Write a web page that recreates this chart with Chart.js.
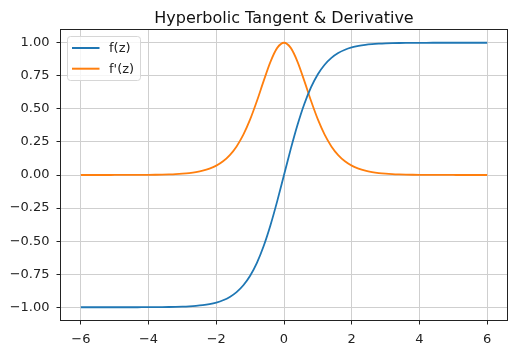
<!DOCTYPE html>
<html>
<head>
<meta charset="utf-8">
<script src="https://cdn.jsdelivr.net/npm/chart.js@4.4.1/dist/chart.umd.min.js"></script>
<style>
html,body{margin:0;padding:0;background:#fff;}
#wrap{width:515px;height:352px;}
</style>
</head>
<body>
<div id="wrap"><canvas id="c" width="515" height="352"></canvas></div>
<script>
const chartTitle = "Hyperbolic Tangent & Derivative";
const seriesLabels = ["f(z)", "f'(z)"];
const zValues = [-6.0,-5.8,-5.6,-5.4,-5.2,-5.0,-4.8,-4.6,-4.4,-4.2,-4.0,-3.8,-3.6,-3.4,-3.2,-3.0,-2.8,-2.6,-2.4,-2.2,-2.0,-1.8,-1.6,-1.4,-1.2,-1.0,-0.8,-0.6,-0.4,-0.2,
  0.0,0.2,0.4,0.6,0.8,1.0,1.2,1.4,1.6,1.8,2.0,2.2,2.4,2.6,2.8,3.0,3.2,3.4,3.6,3.8,4.0,4.2,4.4,4.6,4.8,5.0,5.2,5.4,5.6,5.8,6.0];
const fValues = [-1.0000,-1.0000,-1.0000,-1.0000,-1.0000,-0.9999,-0.9999,-0.9998,-0.9997,-0.9996,-0.9993,-0.9990,-0.9985,-0.9978,-0.9967,-0.9951,-0.9926,-0.9890,-0.9837,-0.9757,-0.9640,-0.9468,-0.9217,-0.8854,-0.8337,-0.7616,-0.6640,-0.5370,-0.3799,-0.1974,
  0.0000,0.1974,0.3799,0.5370,0.6640,0.7616,0.8337,0.8854,0.9217,0.9468,0.9640,0.9757,0.9837,0.9890,0.9926,0.9951,0.9967,0.9978,0.9985,0.9990,0.9993,0.9996,0.9997,0.9998,0.9999,0.9999,1.0000,1.0000,1.0000,1.0000,1.0000];
const dfValues = [0.0000,0.0000,0.0001,0.0001,0.0001,0.0002,0.0003,0.0004,0.0006,0.0009,0.0013,0.0020,0.0030,0.0045,0.0066,0.0099,0.0147,0.0219,0.0323,0.0480,0.0707,0.1036,0.1505,0.2161,0.3050,0.4200,0.5591,0.7116,0.8557,0.9610,
  1.0000,0.9610,0.8557,0.7116,0.5591,0.4200,0.3050,0.2161,0.1505,0.1036,0.0707,0.0480,0.0323,0.0219,0.0147,0.0099,0.0066,0.0045,0.0030,0.0020,0.0013,0.0009,0.0006,0.0004,0.0003,0.0002,0.0001,0.0001,0.0001,0.0000,0.0000];
const xTicks = [-6,-4,-2,0,2,4,6];
const yTicks = [-1.00,-0.75,-0.50,-0.25,0.00,0.25,0.50,0.75,1.00];
const seriesColors = ["#1f77b4", "#ff7f0e"];

const FONT = "'DejaVu Sans', sans-serif";
const minus = s => s.replace('-', '\u2212');

const extras = {
  id: 'extras',
  afterDraw(chart) {
    const ctx = chart.ctx, a = chart.chartArea;
    ctx.save();
    // frame
    ctx.strokeStyle = '#222';
    ctx.lineWidth = 1;
    ctx.strokeRect(a.left, a.top, a.right - a.left, a.bottom - a.top);
    // title
    ctx.fillStyle = '#111';
    ctx.font = "16px " + FONT;
    ctx.textAlign = 'center';
    ctx.textBaseline = 'alphabetic';
    ctx.fillText(chartTitle, (a.left + a.right) / 2, 23);
    // legend
    const bx = 67.5, by = 36.5, bw = 73, bh = 44, r = 3;
    ctx.beginPath();
    ctx.moveTo(bx + r, by);
    ctx.lineTo(bx + bw - r, by); ctx.quadraticCurveTo(bx + bw, by, bx + bw, by + r);
    ctx.lineTo(bx + bw, by + bh - r); ctx.quadraticCurveTo(bx + bw, by + bh, bx + bw - r, by + bh);
    ctx.lineTo(bx + r, by + bh); ctx.quadraticCurveTo(bx, by + bh, bx, by + bh - r);
    ctx.lineTo(bx, by + r); ctx.quadraticCurveTo(bx, by, bx + r, by);
    ctx.closePath();
    ctx.fillStyle = 'rgba(255,255,255,0.8)';
    ctx.fill();
    ctx.strokeStyle = '#d6d6d6';
    ctx.stroke();
    ctx.font = "13px " + FONT;
    ctx.textAlign = 'left';
    ctx.textBaseline = 'middle';
    chart.data.datasets.forEach((ds, i) => {
      const y = 48 + i * 20.7;
      ctx.strokeStyle = ds.borderColor;
      ctx.lineWidth = 2;
      ctx.beginPath();
      ctx.moveTo(72, y); ctx.lineTo(99.5, y); ctx.stroke();
      ctx.fillStyle = '#222';
      ctx.fillText(ds.label, 109, y + 0.5);
    });
    ctx.restore();
  }
};

const mk = (vals) => zValues.map((z, i) => ({x: z, y: vals[i]}));

new Chart(document.getElementById('c'), {
  type: 'line',
  data: {
    datasets: [
      {label: seriesLabels[0], data: mk(fValues), borderColor: seriesColors[0], backgroundColor: seriesColors[0], borderWidth: 1.8, pointRadius: 0, cubicInterpolationMode: 'monotone', fill: false},
      {label: seriesLabels[1], data: mk(dfValues), borderColor: seriesColors[1], backgroundColor: seriesColors[1], borderWidth: 1.8, pointRadius: 0, cubicInterpolationMode: 'monotone', fill: false}
    ]
  },
  options: {
    responsive: false,
    animation: false,
    devicePixelRatio: 1,
    layout: {padding: {left: 0, right: 7.5, top: 29.5, bottom: 0}},
    plugins: {legend: {display: false}, title: {display: false}, tooltip: {enabled: false}},
    scales: {
      x: {
        type: 'linear', min: -6.6, max: 6.6,
        afterBuildTicks: s => { s.ticks = xTicks.map(v => ({value: v})); },
        afterFit: s => { s.height = 31.5; },
        grid: {color: '#cfcfcf', lineWidth: 1, tickColor: '#222', tickLength: 4, drawOnChartArea: true},
        border: {display: false},
        ticks: {font: {family: FONT, size: 13}, color: '#222', padding: 7, maxRotation: 0, callback: v => minus(String(v))}
      },
      y: {
        type: 'linear', min: -1.1, max: 1.1,
        afterBuildTicks: s => { s.ticks = yTicks.map(v => ({value: v})); },
        afterFit: s => { s.width = 60.5; },
        grid: {color: '#cfcfcf', lineWidth: 1, tickColor: '#222', tickLength: 4},
        border: {display: false},
        ticks: {font: {family: FONT, size: 13}, color: '#222', padding: 7, callback: v => minus(v.toFixed(2))}
      }
    }
  },
  plugins: [extras]
});
</script>
</body>
</html>
